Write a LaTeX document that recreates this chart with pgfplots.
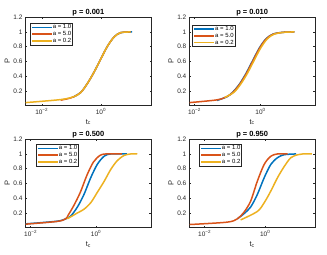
\documentclass[border=0pt]{standalone}
\usepackage{pgfplots}
\pgfplotsset{compat=1.18}
\usepackage{fontspec}
\setmainfont{Liberation Sans}
\definecolor{mblue}{rgb}{0,0.447,0.741}
\definecolor{mred}{rgb}{0.85,0.325,0.098}
\definecolor{myellow}{rgb}{0.929,0.694,0.125}
\definecolor{axc}{rgb}{0.15,0.15,0.15}
\pgfplotsset{
  mstyle/.style={
    scale only axis, width=125.3bp, height=88.5bp,
    ymin=0, ymax=1.2,
    ytick={0.2,0.4,0.6,0.8,1,1.2},
    xtick={0.01,1}, xticklabels={10\textsuperscript{−2},10\textsuperscript{0}},
    minor xtick={},
    tick align=inside, major tick length=1.5bp,
    axis line style={axc, line width=0.4bp},
    every tick/.style={axc, line width=0.4bp},
    tick label style={font=\fontsize{6.5}{7}\selectfont, text=axc},
    /pgf/number format/assume math mode=true,
    xticklabel style={inner sep=0pt, anchor=north, yshift=-2.5bp},
    yticklabel style={inner sep=0pt, anchor=east, xshift=-3bp},
    xlabel={t\textsubscript{c}}, ylabel={P},
    xlabel style={at={(axis description cs:0.5,-0.15)}, anchor=north, inner sep=0pt, font=\fontsize{7.5}{8}\selectfont, text=axc},
    ylabel style={at={(axis description cs:-0.147,0.5)}, anchor=center, inner sep=0pt, font=\fontsize{7.5}{8}\selectfont, text=axc},
    title style={at={(axis description cs:0.5,1)}, anchor=base, yshift=-3.5bp, inner sep=0pt, font=\bfseries\fontsize{7.5}{8}\selectfont},
    legend cell align=left,
    legend style={anchor=north west, draw=axc, line width=0.4bp, fill=white,
      inner xsep=1.2bp, inner ysep=1bp, row sep=1.2bp,
      font=\fontsize{6}{6.5}\selectfont,
      nodes={inner sep=0pt, text height=4.4bp, text depth=1.2bp}},
    legend image code/.code={\draw[##1] (0bp,0bp) -- (20bp,0bp);},
    every axis plot/.append style={line width=1.5bp, smooth, tension=0.5, no markers},
  }
}
\begin{document}
\begin{tikzpicture}
\useasboundingbox (0,0) rectangle (327bp,255bp);
% ---------- p = 0.001
\begin{semilogxaxis}[mstyle, at={(25.7bp,149.3bp)}, anchor=south west,
  xmin=0.00288, xmax=48.98, title={p = 0.001},
  legend style={at={(axis description cs:0.034,0.931)}}]
\addplot[mblue] coordinates {(0.11,0.115) (0.123,0.123) (0.209,0.18) (0.347,0.30) (0.575,0.45) (0.977,0.63) (1.622,0.80) (2.754,0.93) (4.571,0.99) (11.2,1.0)};
\addplot[mred] coordinates {(0.0437,0.075) (0.08,0.097) (0.123,0.123) (0.209,0.18) (0.347,0.30) (0.575,0.45) (0.977,0.63) (1.622,0.80) (2.754,0.93) (4.571,0.99) (10.0,1.0)};
\addplot[myellow] coordinates {(0.00288,0.042) (0.0437,0.083) (0.123,0.123) (0.209,0.18) (0.347,0.30) (0.575,0.45) (0.977,0.63) (1.622,0.80) (2.754,0.93) (4.571,0.99) (10.0,1.0)};
\legend{a = 1.0, a = 5.0, a = 0.2}
\end{semilogxaxis}
% ---------- p = 0.010
\begin{semilogxaxis}[mstyle, at={(189.5bp,149.3bp)}, anchor=south west,
  xmin=0.00708, xmax=43.65, title={p = 0.010},
  legend style={at={(axis description cs:0.022,0.912)}}]
\addplot[mblue] coordinates {(0.0479,0.072) (0.0955,0.12) (0.141,0.18) (0.224,0.286) (0.355,0.43) (0.575,0.61) (0.912,0.78) (1.445,0.905) (2.344,0.97) (4.68,0.995) (10.47,1.0)};
\addplot[mred] coordinates {(0.00708,0.042) (0.0479,0.079) (0.0955,0.123) (0.145,0.18) (0.23,0.286) (0.365,0.43) (0.59,0.61) (0.933,0.78) (1.479,0.905) (2.4,0.97) (4.8,0.995) (10.47,1.0)};
\addplot[myellow] coordinates {(0.0813,0.11) (0.155,0.18) (0.245,0.286) (0.389,0.43) (0.631,0.61) (1.0,0.78) (1.585,0.905) (2.57,0.97) (5.13,0.995) (10.47,1.0)};
\legend{a = 1.0, a = 5.0, a = 0.2}
\end{semilogxaxis}
% ---------- p = 0.500
\begin{semilogxaxis}[mstyle, at={(25.7bp,27.3bp)}, anchor=south west,
  xmin=0.00708, xmax=47.86, title={p = 0.500},
  legend style={at={(axis description cs:0.082,0.942)}}]
\addplot[mblue] coordinates {(0.00708,0.052) (0.0646,0.088) (0.1175,0.12) (0.170,0.16) (0.269,0.28) (0.427,0.45) (0.692,0.68) (1.096,0.86) (1.778,0.97) (2.818,1.0) (8.71,1.0)};
\addplot[mred] coordinates {(0.00708,0.048) (0.0646,0.085) (0.1175,0.12) (0.141,0.17) (0.209,0.30) (0.331,0.48) (0.525,0.71) (0.832,0.89) (1.318,0.98) (1.995,1.0) (6.17,1.0)};
\addplot[myellow] coordinates {(0.132,0.12) (0.269,0.20) (0.427,0.25) (0.692,0.34) (1.096,0.48) (1.778,0.63) (2.818,0.79) (4.467,0.91) (7.244,0.98) (11.48,1.0) (18.2,1.0)};
\legend{a = 1.0, a = 5.0, a = 0.2}
\end{semilogxaxis}
% ---------- p = 0.950
\begin{semilogxaxis}[mstyle, at={(189.5bp,27.3bp)}, anchor=south west,
  xmin=0.00316, xmax=43.65, title={p = 0.950},
  legend style={at={(axis description cs:0.076,0.942)}}]
\addplot[mblue] coordinates {(0.120,0.12) (0.1995,0.19) (0.331,0.28) (0.550,0.45) (0.933,0.68) (1.549,0.86) (2.57,0.95) (4.266,0.99) (10.47,1.0)};
\addplot[mred] coordinates {(0.00316,0.043) (0.055,0.075) (0.120,0.12) (0.1995,0.21) (0.331,0.36) (0.550,0.63) (0.933,0.86) (1.549,0.97) (2.57,1.0) (5.50,1.0)};
\addplot[myellow] coordinates {(0.155,0.106) (0.550,0.22) (0.933,0.34) (1.549,0.50) (2.57,0.68) (4.266,0.83) (7.08,0.95) (12.02,0.99) (17.38,1.0) (34.67,1.0)};
\legend{a = 1.0, a = 5.0, a = 0.2}
\end{semilogxaxis}
\end{tikzpicture}
\end{document}
